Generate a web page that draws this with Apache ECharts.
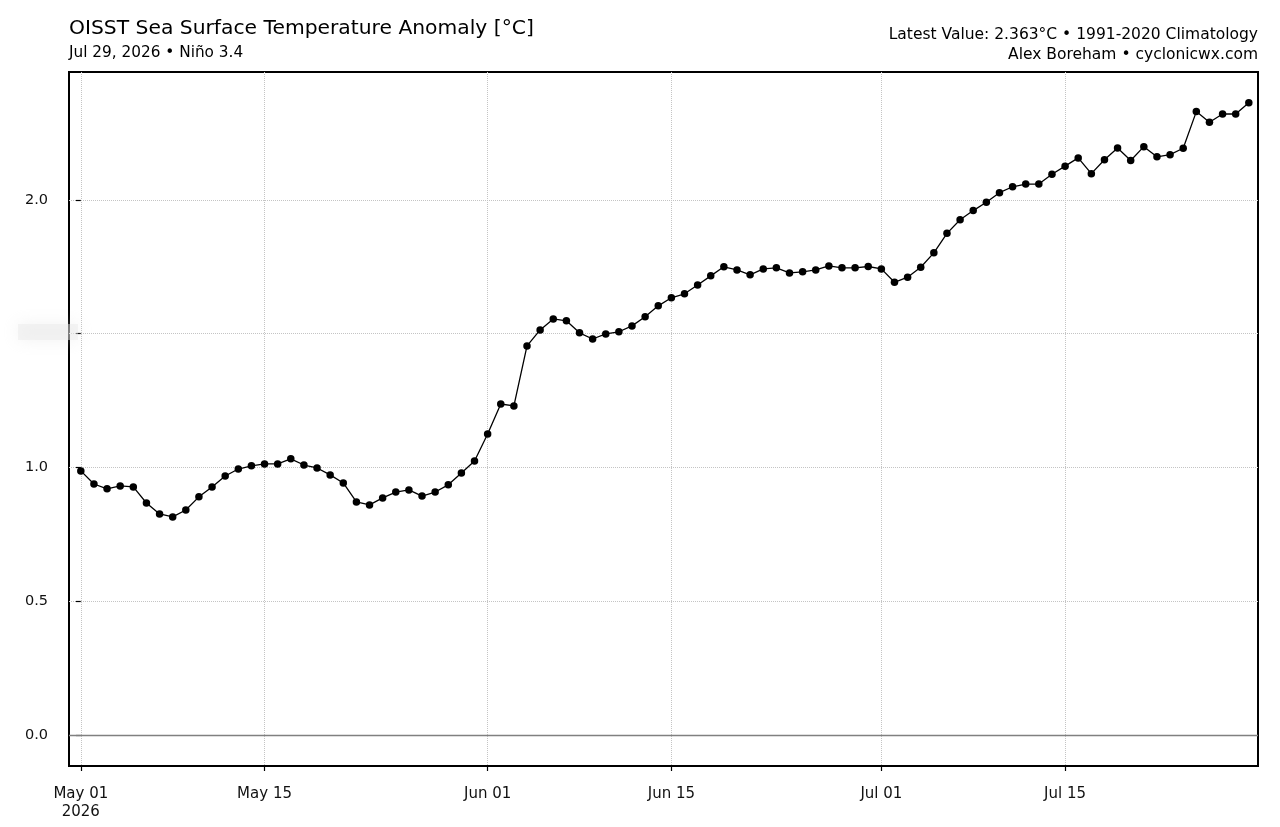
<!DOCTYPE html>
<html>
<head>
<meta charset="utf-8">
<script src="https://cdn.jsdelivr.net/npm/echarts@6/dist/echarts.min.js"></script>
<style>
  html, body { margin: 0; padding: 0; background: #fff; }
  #main { width: 1280px; height: 827px; }
</style>
</head>
<body>
<div id="main"></div>
<script>
// daily anomaly, May 01 .. Jul 29 2026 (index 0 = May 01)
var anomaly = [
  0.987, 0.938, 0.920, 0.931, 0.927, 0.867, 0.826, 0.815, 0.841, 0.890,
  0.927, 0.968, 0.994, 1.006, 1.013, 1.013, 1.032, 1.009, 0.998, 0.972,
  0.942, 0.871, 0.860, 0.886, 0.908, 0.916, 0.893, 0.908, 0.935, 0.979,
  1.024,
  1.125, 1.237, 1.230, 1.454, 1.514, 1.555, 1.548, 1.503, 1.480, 1.499,
  1.507, 1.529, 1.563, 1.604, 1.634, 1.649, 1.682, 1.716, 1.750, 1.738,
  1.720, 1.742, 1.746, 1.727, 1.731, 1.738, 1.753, 1.746, 1.746, 1.751,
  1.742, 1.692, 1.711, 1.748, 1.802, 1.875, 1.926, 1.960, 1.991, 2.027,
  2.049, 2.059, 2.059, 2.096, 2.126, 2.157, 2.098, 2.150, 2.194, 2.147,
  2.199, 2.161, 2.169, 2.193, 2.330, 2.290, 2.321, 2.321, 2.363
];

var tickDays = [0, 14, 31, 45, 61, 75];
var tickLabels = ['May 01\n2026', 'May 15', 'Jun 01', 'Jun 15', 'Jul 01', 'Jul 15'];
var yTicks = [0, 0.5, 1.0, 1.5, 2.0];

var points = anomaly.map(function (v, i) { return [i, v]; });

var myChart = echarts.init(document.getElementById('main'));
var font = 'DejaVu Sans';

myChart.setOption({
  animation: false,
  backgroundColor: '#fff',
  grid: {
    left: 69, right: 22, top: 72, bottom: 61,
    show: true, borderColor: '#000', borderWidth: 2, backgroundColor: 'transparent'
  },
  xAxis: {
    type: 'value',
    min: -0.9,
    max: 89.7,
    axisLine: { show: false, onZero: false },
    axisTick: { show: true, length: 5, inside: false, customValues: tickDays,
      lineStyle: { color: '#000', width: 1.2 } },
    axisLabel: {
      customValues: tickDays,
      margin: 19,
      fontFamily: font, fontSize: 15, color: '#111', lineHeight: 18,
      formatter: function (v) {
        var i = tickDays.indexOf(v);
        return i >= 0 ? tickLabels[i] : '';
      }
    },
    splitLine: { show: true, lineStyle: { color: '#c4c4c4', type: 'dotted', width: 1 } }
  },
  yAxis: {
    type: 'value',
    min: -0.116,
    max: 2.478,
    axisLine: { show: false },
    axisTick: { show: true, length: 5, inside: false, customValues: yTicks,
      lineStyle: { color: '#000', width: 1.2 } },
    axisLabel: {
      customValues: yTicks,
      margin: 21,
      fontFamily: font, fontSize: 14.5, color: '#111',
      formatter: function (v) {
        if (Math.abs(v - 1.5) < 1e-6) return '';
        return v.toFixed(1);
      }
    },
    splitLine: { show: true, lineStyle: { color: '#c4c4c4', type: 'dotted', width: 1 } }
  },
  series: [{
    type: 'line',
    data: points,
    symbol: 'circle',
    symbolSize: 7.5,
    showSymbol: true,
    lineStyle: { color: '#000', width: 1.3 },
    itemStyle: { color: '#000' },
    z: 5,
    markLine: {
      silent: true,
      symbol: ['none', 'none'],
      label: { show: false },
      lineStyle: { color: '#808080', type: 'solid', width: 1.3 },
      data: [{ yAxis: 0 }],
      z: 3
    }
  }],
  graphic: [
    { type: 'text', left: 69, top: 19,
      style: { text: 'OISST Sea Surface Temperature Anomaly [°C]', fontFamily: font, fontSize: 20.3, fill: '#000' } },
    { type: 'text', left: 69, top: 46,
      style: { text: 'Jul 29, 2026 • Niño 3.4', fontFamily: font, fontSize: 15.3, fill: '#000' } },
    { type: 'text', right: 22, top: 27,
      style: { text: 'Latest Value: 2.363°C • 1991-2020 Climatology', fontFamily: font, fontSize: 15.5, fill: '#000', align: 'right' } },
    { type: 'text', right: 22, top: 47,
      style: { text: 'Alex Boreham • cyclonicwx.com', fontFamily: font, fontSize: 15.5, fill: '#000', align: 'right' } },
    { type: 'rect', left: 18, top: 324, z: 100,
      shape: { width: 60, height: 16 },
      style: { fill: 'rgba(232,232,232,0.45)', shadowBlur: 16, shadowColor: 'rgba(215,215,215,0.7)' } }
  ]
});
</script>
</body>
</html>
